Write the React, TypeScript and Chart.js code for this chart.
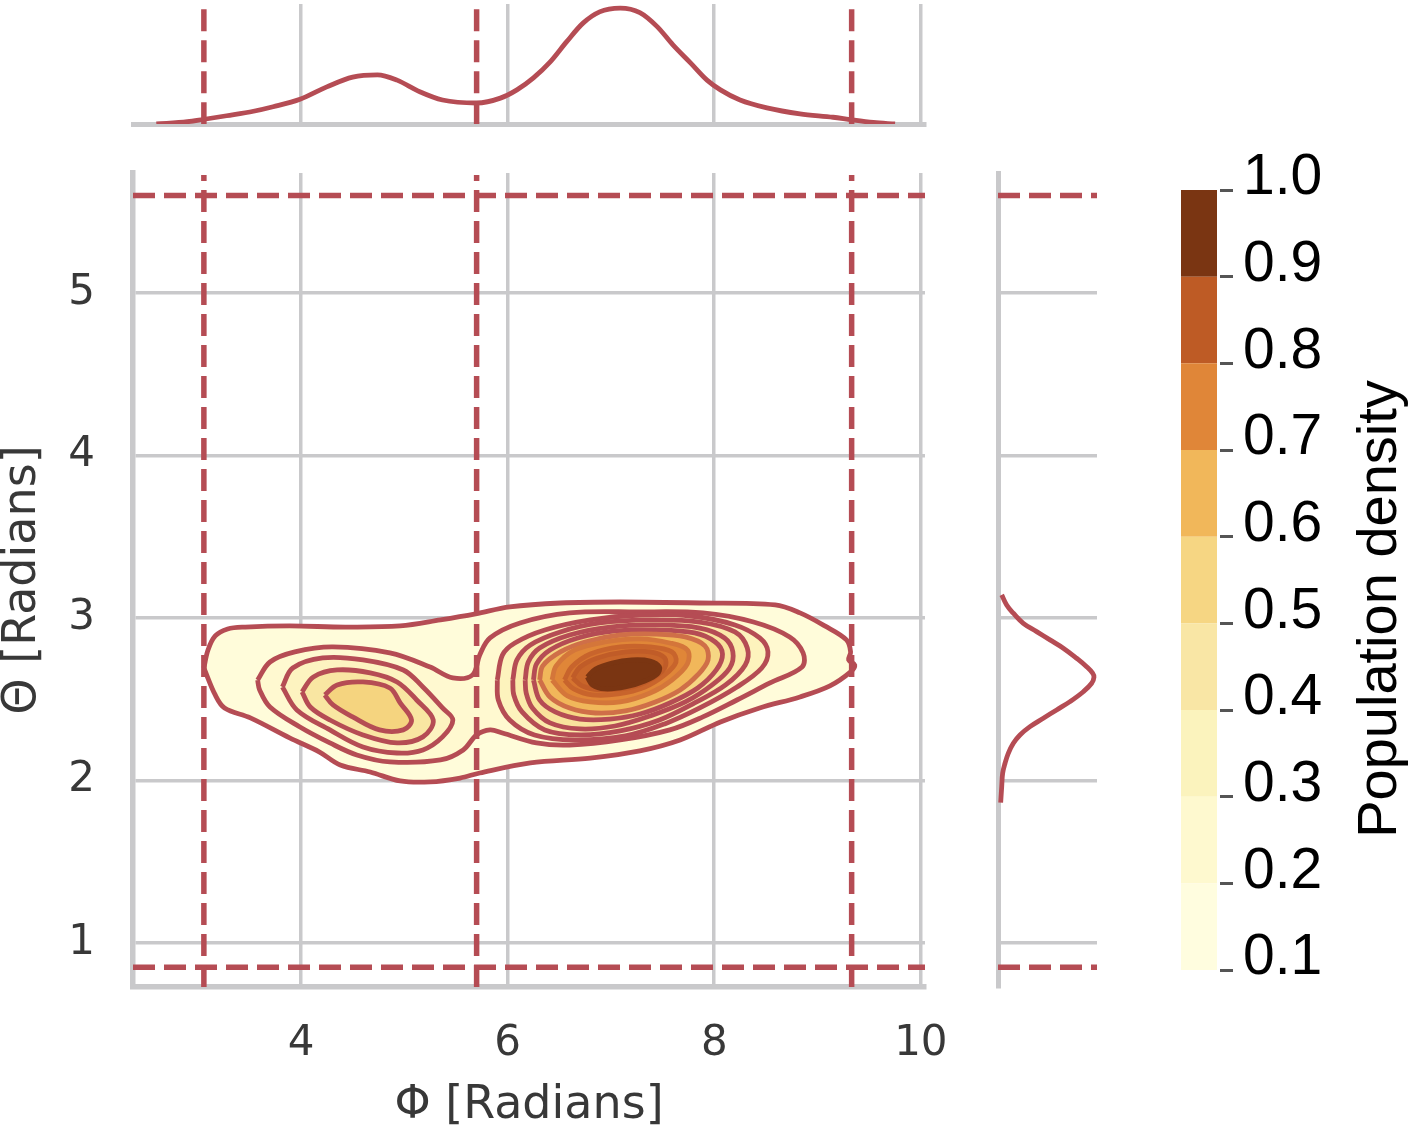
import React, { useEffect, useRef } from 'react';
import Chart from 'chart.js/auto';

type Pt = [number, number];

const xTickValues = [4, 6, 8, 10];
const yTickValues = [1, 2, 3, 4, 5];
const phiCuts = [3.06, 5.7, 9.33];
const thetaCuts = [0.85, 5.6];
const colorbarTicks = [0.1, 0.2, 0.3, 0.4, 0.5, 0.6, 0.7, 0.8, 0.9, 1.0];

// marginal densities
const phiDensity: Pt[] = [
  [2.6, 0], [2.9, 0.006], [3.05, 0.012], [3.28, 0.022], [3.54, 0.034], [3.73, 0.046], [3.99, 0.066],
  [4.25, 0.099], [4.5, 0.125], [4.74, 0.131], [4.93, 0.117], [5.15, 0.086], [5.37, 0.064], [5.7, 0.056],
  [5.93, 0.069], [6.09, 0.091], [6.25, 0.123], [6.41, 0.165], [6.57, 0.219], [6.73, 0.269], [6.89, 0.299],
  [7.09, 0.309], [7.28, 0.297], [7.45, 0.259], [7.6, 0.211], [7.77, 0.163], [7.93, 0.117], [8.06, 0.091],
  [8.25, 0.064], [8.51, 0.043], [8.83, 0.027], [9.15, 0.018], [9.33, 0.011], [9.54, 0.004], [9.75, 0],
];
const thetaDensity: Pt[] = [
  [0.039, 3.142], [0.091, 3.08], [0.161, 3.029], [0.266, 2.967], [0.406, 2.916], [0.546, 2.865],
  [0.686, 2.814], [0.826, 2.752], [0.931, 2.7], [0.994, 2.66], [1.008, 2.635], [0.984, 2.598], [0.896, 2.546],
  [0.756, 2.485], [0.616, 2.434], [0.476, 2.383], [0.336, 2.331], [0.231, 2.28], [0.161, 2.229], [0.108, 2.167],
  [0.074, 2.106], [0.049, 2.045], [0.039, 1.963], [0.028, 1.863],
];

// contour rings, outermost first
const ringOuter: Pt[] = [
  [3.06, 2.692], [3.1, 2.803], [3.17, 2.889], [3.29, 2.932], [3.46, 2.944], [3.89, 2.951], [4.43, 2.944],
  [4.96, 2.951], [5.35, 2.988], [5.69, 3.025], [6.02, 3.068], [6.51, 3.092], [7.09, 3.098], [7.86, 3.092],
  [8.59, 3.08], [8.83, 3.031], [9.07, 2.951], [9.28, 2.865], [9.32, 2.791], [9.3, 2.742], [9.36, 2.711],
  [9.32, 2.668], [9.12, 2.582], [8.83, 2.514], [8.44, 2.446], [8.06, 2.36], [7.67, 2.249], [7.28, 2.182],
  [6.8, 2.138], [6.22, 2.108], [5.73, 2.046], [5.54, 2.015], [5.25, 1.991], [4.96, 1.997], [4.67, 2.052],
  [4.38, 2.095], [4.18, 2.175], [3.89, 2.262], [3.51, 2.385], [3.26, 2.446], [3.17, 2.526], [3.06, 2.692],
];
const ringBoth: Pt[] = [
  [3.58, 2.618], [3.7, 2.729], [3.94, 2.791], [4.31, 2.822], [4.86, 2.785], [5.25, 2.698], [5.47, 2.631],
  [5.66, 2.649], [5.73, 2.772], [5.83, 2.877], [6.12, 2.969], [6.6, 3.031], [7.25, 3.037], [7.89, 3.031],
  [8.38, 2.975], [8.73, 2.883], [8.86, 2.785], [8.85, 2.698], [8.54, 2.6], [8.22, 2.495], [7.89, 2.391],
  [7.57, 2.311], [7.09, 2.249], [6.6, 2.218], [6.28, 2.231], [5.95, 2.292], [5.83, 2.311], [5.7, 2.28],
  [5.57, 2.188], [5.35, 2.126], [4.86, 2.114], [4.54, 2.157], [4.28, 2.231], [3.99, 2.329], [3.7, 2.452],
  [3.6, 2.557], [3.58, 2.618],
];
const ringLeftA: Pt[] = [
  [3.82, 2.575], [3.92, 2.692], [4.21, 2.754], [4.6, 2.742], [4.99, 2.68], [5.18, 2.575], [5.37, 2.446],
  [5.47, 2.372], [5.37, 2.268], [5.18, 2.188], [4.93, 2.169], [4.6, 2.206], [4.28, 2.311], [3.96, 2.434], [3.82, 2.575],
];
const ringLeftB: Pt[] = [
  [4.01, 2.545], [4.12, 2.637], [4.35, 2.68], [4.67, 2.662], [4.93, 2.606], [5.12, 2.495], [5.28, 2.372],
  [5.18, 2.268], [4.93, 2.231], [4.6, 2.28], [4.28, 2.372], [4.09, 2.452], [4.01, 2.545],
];
const ringLeftC: Pt[] = [
  [4.23, 2.526], [4.35, 2.588], [4.6, 2.606], [4.86, 2.569], [4.96, 2.477], [5.07, 2.372], [4.99, 2.311],
  [4.76, 2.311], [4.5, 2.391], [4.31, 2.465], [4.23, 2.526],
];
const ringRightA: Pt[] = [
  [5.9, 2.618], [5.95, 2.772], [6.07, 2.846], [6.36, 2.926], [6.8, 2.988], [7.28, 3.018], [7.77, 3.012],
  [8.2, 2.957], [8.44, 2.877], [8.52, 2.791], [8.46, 2.692], [8.22, 2.575], [7.86, 2.446], [7.52, 2.348],
  [7.14, 2.274], [6.65, 2.249], [6.26, 2.28], [6.02, 2.372], [5.91, 2.495], [5.9, 2.618],
];
const ringRightB: Pt[] = [
  [6.05, 2.618], [6.09, 2.742], [6.22, 2.834], [6.51, 2.914], [6.89, 2.969], [7.38, 2.988], [7.86, 2.975],
  [8.2, 2.914], [8.32, 2.815], [8.3, 2.711], [8.11, 2.588], [7.81, 2.477], [7.47, 2.372], [7.09, 2.305],
  [6.7, 2.28], [6.36, 2.311], [6.14, 2.422], [6.06, 2.526], [6.05, 2.618],
];
const ringRightC: Pt[] = [
  [6.17, 2.618], [6.2, 2.729], [6.31, 2.815], [6.6, 2.895], [6.99, 2.944], [7.43, 2.957], [7.86, 2.938],
  [8.1, 2.877], [8.18, 2.791], [8.15, 2.692], [7.98, 2.588], [7.72, 2.483], [7.38, 2.397], [7.04, 2.335],
  [6.7, 2.317], [6.41, 2.354], [6.24, 2.446], [6.18, 2.538], [6.17, 2.618],
];
const ringRightD: Pt[] = [
  [6.25, 2.618], [6.28, 2.717], [6.41, 2.803], [6.68, 2.877], [7.04, 2.92], [7.43, 2.926], [7.81, 2.908],
  [8.01, 2.852], [8.08, 2.778], [8.02, 2.68], [7.84, 2.569], [7.57, 2.477], [7.28, 2.409], [6.99, 2.378],
  [6.7, 2.378], [6.46, 2.422], [6.31, 2.495], [6.25, 2.618],
];
const ringRightE: Pt[] = [
  [6.31, 2.618], [6.34, 2.705], [6.51, 2.791], [6.75, 2.852], [7.09, 2.895], [7.43, 2.901], [7.72, 2.883],
  [7.91, 2.828], [7.94, 2.742], [7.84, 2.649], [7.67, 2.557], [7.43, 2.483], [7.14, 2.428], [6.85, 2.415],
  [6.6, 2.446], [6.41, 2.514], [6.31, 2.618],
];
const ringRightF: Pt[] = [
  [6.43, 2.618], [6.47, 2.705], [6.65, 2.803], [6.94, 2.852], [7.28, 2.871], [7.57, 2.846], [7.74, 2.803],
  [7.74, 2.717], [7.59, 2.618], [7.38, 2.538], [7.09, 2.483], [6.8, 2.483], [6.58, 2.52], [6.43, 2.618],
];
const ringRightG: Pt[] = [
  [6.55, 2.618], [6.62, 2.698], [6.8, 2.778], [7.09, 2.822], [7.38, 2.822], [7.59, 2.791], [7.63, 2.729],
  [7.52, 2.649], [7.33, 2.575], [7.07, 2.532], [6.82, 2.526], [6.64, 2.563], [6.55, 2.618],
];
const ringRightH: Pt[] = [
  [6.63, 2.631], [6.7, 2.698], [6.87, 2.754], [7.14, 2.791], [7.38, 2.791], [7.52, 2.754], [7.52, 2.692],
  [7.38, 2.618], [7.17, 2.569], [6.89, 2.557], [6.72, 2.582], [6.63, 2.631],
];
const ringCore: Pt[] = [
  [6.77, 2.637], [6.85, 2.686], [7.01, 2.723], [7.2, 2.742], [7.38, 2.735], [7.47, 2.698], [7.45, 2.655],
  [7.33, 2.612], [7.14, 2.575], [6.94, 2.563], [6.82, 2.588], [6.77, 2.637],
];

const GRID = '#c9c9cb';
const RED = '#b54c54';
const TEXT = '#383838';
const TICK_FONT = 'DejaVu Sans';
const bandColors = ['#fffddf', '#fef9cf', '#fbf3bd', '#f9e6a5', '#f6d683', '#f1b75a', '#e08638', '#be5b25', '#7a3512'];

const rings = [
  { points: ringOuter, fill: '#fffcda', stroke: RED },
  { points: ringBoth, fill: '#fff9d0', stroke: RED },
  { points: ringLeftA, fill: '#fdf3c0', stroke: RED },
  { points: ringLeftB, fill: '#f9e6a2', stroke: RED },
  { points: ringLeftC, fill: '#f5d47f', stroke: RED },
  { points: ringRightA, fill: '#fdf3bd', stroke: RED },
  { points: ringRightB, fill: '#fbeaaa', stroke: RED },
  { points: ringRightC, fill: '#f9e39c', stroke: RED },
  { points: ringRightD, fill: '#f6d683', stroke: RED },
  { points: ringRightE, fill: '#f1b75a', stroke: '#cf6f48' },
  { points: ringRightF, fill: '#e08638', stroke: '#d4763a' },
  { points: ringRightG, fill: '#d67430', stroke: '#c8642c' },
  { points: ringRightH, fill: '#c8652a', stroke: '#c05c28' },
  { points: ringCore, fill: '#7a3512', stroke: '#7a3512' },
];

const toXY = (pts: Pt[]) => pts.map(([x, y]) => ({ x, y }));

const dashed = (data: { x: number; y: number }[]) => ({
  data,
  showLine: true,
  pointRadius: 0,
  borderColor: RED,
  borderWidth: 5.5,
  borderDash: [22, 9],
  order: 0,
});

const xTicksHook = (s: any) => {
  s.ticks = xTickValues.map(value => ({ value }));
};
const yTicksHook = (s: any) => {
  s.ticks = yTickValues.map(value => ({ value }));
};

const baseOptions = {
  responsive: false,
  animation: false as const,
  plugins: { legend: { display: false }, tooltip: { enabled: false } },
};

const X_MIN = 2.374;
const X_MAX = 10.04;
const Y_MIN = 0.729;
const Y_MAX = 5.738;
const DENSITY_TOP = 0.32;
const THETA_DENSITY_MAX = 1.04;

const mainConfig: any = {
  type: 'scatter',
  data: {
    datasets: [
      ...rings.map((r, i) => ({
        data: toXY(r.points),
        showLine: true,
        pointRadius: 0,
        tension: 0.35,
        fill: 'shape',
        backgroundColor: r.fill,
        borderColor: r.stroke,
        borderWidth: 4.8,
        order: 100 - i,
      })),
      ...phiCuts.map(x => dashed([{ x, y: Y_MIN }, { x, y: 5.726 }])),
      ...thetaCuts.map(y => dashed([{ x: X_MIN, y }, { x: X_MAX, y }])),
    ],
  },
  options: {
    ...baseOptions,
    layout: { padding: { top: 38, right: 35, left: 0, bottom: 0 } },
    scales: {
      x: {
        min: X_MIN,
        max: X_MAX,
        afterBuildTicks: xTicksHook,
        // tick padding would otherwise eat into the plot area
        afterFit: (s: any) => { s.height = 142; s.paddingLeft = 0; s.paddingRight = 0; },
        grid: { color: GRID, lineWidth: 3.5, drawTicks: false },
        border: { color: GRID, width: 5.5 },
        ticks: { color: TEXT, padding: 32, maxRotation: 0, autoSkip: false, font: { family: TICK_FONT, size: 42 } },
        title: {
          display: true,
          text: 'Φ [Radians]',
          color: TEXT,
          padding: 0,
          font: { family: TICK_FONT, size: 46, lineHeight: 1 },
        },
      },
      y: {
        min: Y_MIN,
        max: Y_MAX,
        afterBuildTicks: yTicksHook,
        afterFit: (s: any) => { s.width = 133; s.paddingTop = 0; s.paddingBottom = 0; },
        grid: { color: GRID, lineWidth: 3.5, drawTicks: false },
        border: { color: GRID, width: 5.5 },
        ticks: { color: TEXT, padding: 38, autoSkip: false, font: { family: TICK_FONT, size: 42 } },
        title: {
          display: true,
          text: 'Θ [Radians]',
          color: TEXT,
          padding: 0,
          font: { family: TICK_FONT, size: 46, lineHeight: 1 },
        },
      },
    },
  },
};

const topConfig: any = {
  type: 'scatter',
  data: {
    datasets: [
      {
        data: toXY(phiDensity),
        showLine: true,
        pointRadius: 0,
        cubicInterpolationMode: 'monotone',
        borderColor: RED,
        borderWidth: 4.8,
        order: 1,
      },
      ...phiCuts.map(x => dashed([{ x, y: 0.306 }, { x, y: 0 }])),
    ],
  },
  options: {
    ...baseOptions,
    layout: { padding: { top: 4, right: 35, left: 133, bottom: 11 } },
    scales: {
      x: {
        min: X_MIN,
        max: X_MAX,
        afterBuildTicks: xTicksHook,
        grid: { color: GRID, lineWidth: 3.5, drawTicks: false },
        border: { color: GRID, width: 5 },
        ticks: { display: false },
      },
      y: { display: false, min: 0, max: DENSITY_TOP },
    },
  },
};

const rightConfig: any = {
  type: 'scatter',
  data: {
    datasets: [
      {
        data: toXY(thetaDensity),
        showLine: true,
        pointRadius: 0,
        tension: 0.4,
        borderColor: RED,
        borderWidth: 4.8,
        order: 1,
      },
      ...thetaCuts.map(y => dashed([{ x: 0, y }, { x: THETA_DENSITY_MAX, y }])),
    ],
  },
  options: {
    ...baseOptions,
    layout: { padding: { top: 38, right: 33, left: 38, bottom: 139 } },
    scales: {
      x: { display: false, min: 0, max: THETA_DENSITY_MAX },
      y: {
        min: Y_MIN,
        max: Y_MAX,
        afterBuildTicks: yTicksHook,
        grid: { color: GRID, lineWidth: 3.5, drawTicks: false },
        border: { color: GRID, width: 5 },
        ticks: { display: false },
      },
    },
  },
};

const colorbarTitle = {
  id: 'colorbarTitle',
  afterDraw(chart: any) {
    const { ctx } = chart;
    ctx.save();
    ctx.translate(226, 479);
    ctx.rotate(-Math.PI / 2);
    ctx.font = '56px "Liberation Sans"';
    ctx.fillStyle = '#000';
    ctx.textAlign = 'center';
    ctx.fillText('Population density', 0, 0);
    ctx.restore();
  },
};

const colorbarConfig: any = {
  type: 'bar',
  data: {
    labels: [''],
    datasets: bandColors.map((color, i) => ({
      data: [[colorbarTicks[i], colorbarTicks[i + 1]]],
      backgroundColor: color,
      grouped: false,
      barPercentage: 0.857,
      categoryPercentage: 1,
    })),
  },
  options: {
    ...baseOptions,
    layout: { padding: { top: 60, bottom: 156, left: 8, right: 0 } },
    scales: {
      x: { display: false },
      y: {
        position: 'right',
        min: 0.1,
        max: 1.0,
        afterBuildTicks: (s: any) => {
          s.ticks = colorbarTicks.map(value => ({ value }));
        },
        afterFit: (s: any) => { s.width = 190; },
        grid: { drawOnChartArea: false, tickLength: 13, tickWidth: 3, tickColor: '#555' },
        border: { display: false },
        ticks: {
          color: '#000',
          padding: 10,
          autoSkip: false,
          // second empty line lifts the label above its tick, as in the figure
          callback: (v: any) => [Number(v).toFixed(1), ''],
          font: { family: 'Liberation Sans', size: 57, lineHeight: '23px' },
        },
      },
    },
  },
  plugins: [colorbarTitle],
};

const Panel: React.FC<{ config: any; left: number; top: number; width: number; height: number; blur: number }> = ({
  config, left, top, width, height, blur,
}) => {
  const canvasRef = useRef<HTMLCanvasElement>(null);

  useEffect(() => {
    if (!canvasRef.current) return;
    const chart = new Chart(canvasRef.current, config);
    return () => chart.destroy();
  }, [config]);

  return (
    <canvas
      ref={canvasRef}
      width={width}
      height={height}
      style={{ position: 'absolute', left, top, width, height, filter: `blur(${blur}px)` }}
    />
  );
};

export default function App() {
  return (
    <div style={{ position: 'absolute', left: 0, top: 0, width: 1410, height: 1126, overflow: 'hidden', background: '#fff' }}>
      <Panel config={topConfig} left={0} top={0} width={960} height={135} blur={0.6} />
      <Panel config={mainConfig} left={0} top={135} width={960} height={994} blur={0.6} />
      <Panel config={rightConfig} left={960} top={135} width={170} height={991} blur={0.6} />
      <Panel config={colorbarConfig} left={1170} top={130} width={240} height={996} blur={0.3} />
    </div>
  );
}
